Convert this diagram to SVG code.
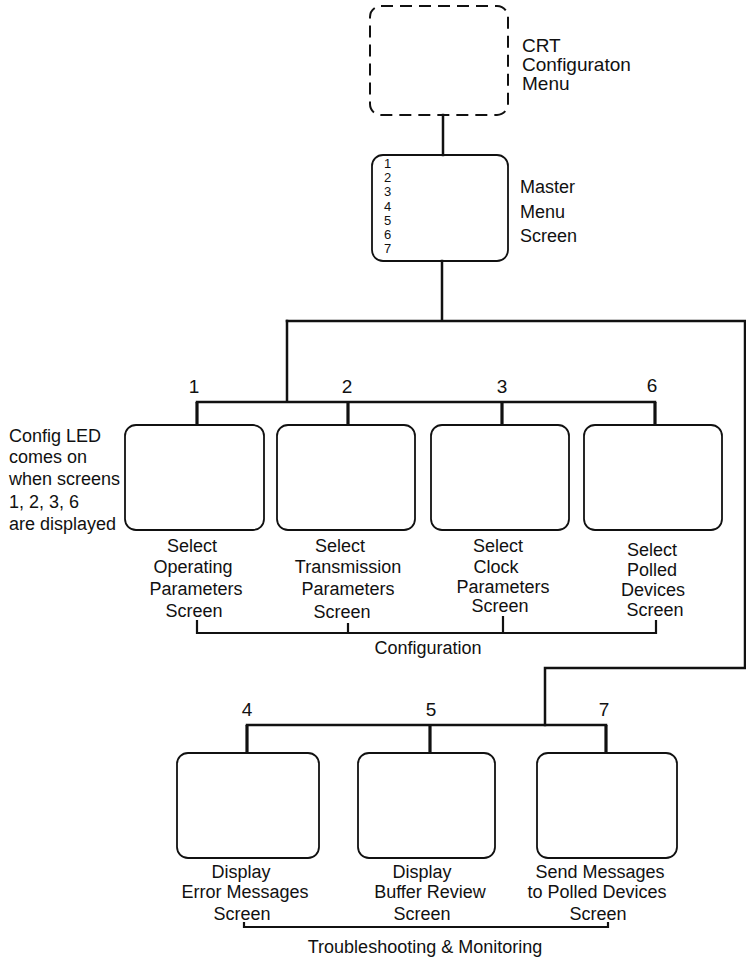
<svg xmlns="http://www.w3.org/2000/svg" width="746" height="961" viewBox="0 0 746 961">
<style>
text{font-family:"Liberation Sans",Arial,sans-serif;fill:#111}
.lbl{font-size:18px;text-anchor:middle}
.num{font-size:19px;text-anchor:middle}
.side{font-size:18px}
.note{font-size:19px}
.box{fill:none;stroke:#111;stroke-width:1.8}
.dash{fill:none;stroke:#111;stroke-width:2;stroke-dasharray:12 7}
.ln{fill:none;stroke:#111;stroke-width:2.5;stroke-linecap:square}
.stub{fill:none;stroke:#111;stroke-width:3.2}
.br{fill:none;stroke:#111;stroke-width:2.2}
</style>
<rect width="746" height="961" fill="#fff"/>
<g id="connectors">
<path class="ln" d="M443 115V155"/>
<path class="ln" d="M442 261V321M287 321H745V668H545V725"/>
<path class="ln" d="M287 321V402M197 402H655"/>
<path class="stub" d="M197 402V425M348 402V425M502 402V425M655 402V425"/>
<path class="ln" d="M247 725H606"/>
<path class="stub" d="M247 725V753M430 725V753M606 725V753"/>
<path class="br" d="M197 620V633H656V620M348 623V633M503 616V633"/>
<path class="br" d="M244 922V927H608V922"/>
</g>
<g id="crt">
<rect class="dash" x="370" y="6" width="138" height="109" rx="11"/>
<text class="note" x="522" y="52">CRT</text>
<text class="note" x="522" y="71">Configuraton</text>
<text class="note" x="522" y="90">Menu</text>
</g>
<g id="master">
<rect class="box" x="372" y="155" width="136" height="106" rx="11"/>
<g font-size="13">
<text x="384" y="168">1</text>
<text x="384" y="182">2</text>
<text x="384" y="196">3</text>
<text x="384" y="211">4</text>
<text x="384" y="225">5</text>
<text x="384" y="239">6</text>
<text x="384" y="253">7</text>
</g>
<text class="side" x="520" y="193">Master</text>
<text class="side" x="520" y="218">Menu</text>
<text class="side" x="520" y="242">Screen</text>
</g>
<g id="note">
<text class="side" x="9" y="442">Config LED</text>
<text class="side" x="9" y="463">comes on</text>
<text class="side" x="9" y="485">when screens</text>
<text class="side" x="9" y="508">1, 2, 3, 6</text>
<text class="side" x="9" y="530">are displayed</text>
</g>
<g id="s1">
<text class="num" x="194" y="393">1</text>
<rect class="box" x="125" y="425" width="139" height="105" rx="11"/>
<text class="lbl" x="192" y="552">Select</text>
<text class="lbl" x="193" y="573">Operating</text>
<text class="lbl" x="196" y="595">Parameters</text>
<text class="lbl" x="194" y="617">Screen</text>
</g>
<g id="s2">
<text class="num" x="347" y="393">2</text>
<rect class="box" x="277" y="425" width="138" height="105" rx="11"/>
<text class="lbl" x="340" y="552">Select</text>
<text class="lbl" x="348" y="573">Transmission</text>
<text class="lbl" x="348" y="595">Parameters</text>
<text class="lbl" x="342" y="618">Screen</text>
</g>
<g id="s3">
<text class="num" x="502" y="393">3</text>
<rect class="box" x="431" y="425" width="138" height="105" rx="11"/>
<text class="lbl" x="498" y="552">Select</text>
<text class="lbl" x="496" y="573">Clock</text>
<text class="lbl" x="503" y="593">Parameters</text>
<text class="lbl" x="500" y="612">Screen</text>
</g>
<g id="s6">
<text class="num" x="652" y="392">6</text>
<rect class="box" x="584" y="425" width="138" height="105" rx="11"/>
<text class="lbl" x="652" y="556">Select</text>
<text class="lbl" x="652" y="576">Polled</text>
<text class="lbl" x="653" y="596">Devices</text>
<text class="lbl" x="655" y="616">Screen</text>
</g>
<g id="configuration">
<text class="lbl" x="428" y="654">Configuration</text>
</g>
<g id="s4">
<text class="num" x="247" y="716">4</text>
<rect class="box" x="177" y="753" width="142" height="105" rx="11"/>
<text class="lbl" x="241" y="878">Display</text>
<text class="lbl" x="245" y="898">Error Messages</text>
<text class="lbl" x="242" y="920">Screen</text>
</g>
<g id="s5">
<text class="num" x="431" y="716">5</text>
<rect class="box" x="358" y="753" width="137" height="105" rx="11"/>
<text class="lbl" x="422" y="878">Display</text>
<text class="lbl" x="430" y="898">Buffer Review</text>
<text class="lbl" x="422" y="920">Screen</text>
</g>
<g id="s7">
<text class="num" x="604" y="716">7</text>
<rect class="box" x="537" y="753" width="140" height="105" rx="11"/>
<text class="lbl" x="600" y="878">Send Messages</text>
<text class="lbl" x="597" y="898">to Polled Devices</text>
<text class="lbl" x="598" y="920">Screen</text>
</g>
<g id="troubleshooting">
<text class="lbl" font-size="19" x="425" y="953">Troubleshooting &amp; Monitoring</text>
</g>
</svg>
